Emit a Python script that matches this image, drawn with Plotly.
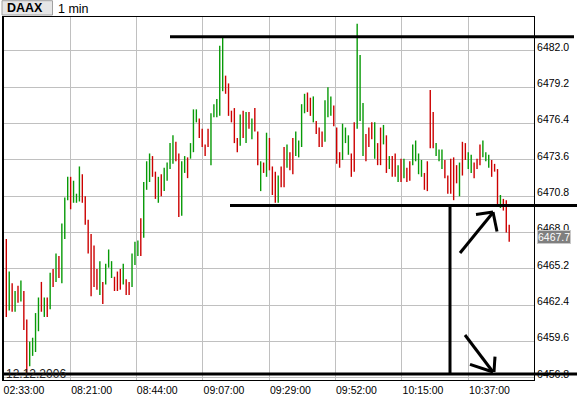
import plotly.graph_objects as go

# ---------------- data ----------------
highs = [6467.5, 6465.0, 6464.1, 6463.5, 6463.9, 6464.3, 6463.5, 6461.3, 6459.6, 6459.9,
         6461.8, 6463.0, 6464.2, 6463.0, 6463.0, 6464.9, 6465.2, 6466.4, 6466.2, 6468.7,
         6470.7, 6472.3, 6472.3, 6472.0, 6471.0, 6473.1, 6472.5, 6470.8, 6469.0, 6467.9,
         6467.0, 6465.2, 6465.8, 6464.2, 6465.6, 6466.7, 6465.8, 6464.6, 6465.0, 6465.2,
         6465.6, 6464.4, 6464.2, 6466.4, 6467.3, 6467.4, 6469.1, 6471.9, 6473.5, 6474.1,
         6473.9, 6472.7, 6472.3, 6472.5, 6473.0, 6473.4, 6474.9, 6475.5, 6475.0, 6474.1,
         6473.5, 6473.9, 6473.8, 6474.9, 6477.5, 6477.5, 6476.8, 6476.0, 6474.8, 6476.0,
         6477.2, 6477.9, 6478.3, 6482.4, 6483.1, 6480.1, 6479.5, 6477.4, 6477.6, 6475.3,
         6477.1, 6477.4, 6477.3, 6477.3, 6476.8, 6477.6, 6475.8, 6473.5, 6473.4, 6475.7,
         6475.3, 6473.1, 6472.7, 6472.4, 6473.1, 6474.6, 6474.8, 6474.2, 6475.3, 6475.8,
         6475.1, 6477.9, 6478.7, 6478.8, 6478.4, 6478.5, 6476.6, 6476.1, 6475.8, 6478.2,
         6479.2, 6478.5, 6477.8, 6476.1, 6474.2, 6476.4, 6476.1, 6475.5, 6474.1, 6476.5,
         6484.1, 6481.7, 6478.0, 6475.6, 6476.1, 6476.5, 6476.5, 6474.9, 6476.1, 6476.3,
         6475.5, 6473.9, 6473.9, 6474.1, 6473.2, 6473.7, 6473.7, 6473.0, 6473.5, 6474.8,
         6475.1, 6474.1, 6473.6, 6472.6, 6473.5, 6479.0, 6477.3, 6474.9, 6474.4, 6474.4,
         6473.6, 6472.4, 6473.7, 6473.8, 6473.2, 6473.4, 6475.0, 6474.9, 6474.2, 6474.0,
         6473.4, 6473.7, 6474.8, 6475.1, 6474.2, 6474.0, 6473.6, 6473.3, 6472.9, 6470.9,
         6470.6, 6470.5, 6468.6]
lows = [6461.5, 6462.0, 6461.9, 6461.9, 6462.6, 6462.7, 6460.5, 6457.0, 6457.7, 6458.5,
        6458.8, 6460.4, 6461.9, 6461.5, 6461.5, 6462.1, 6463.8, 6464.2, 6464.5, 6464.1,
        6467.5, 6470.5, 6469.8, 6470.3, 6470.3, 6470.4, 6470.3, 6468.6, 6466.4, 6463.1,
        6463.8, 6463.6, 6463.2, 6462.5, 6464.0, 6465.3, 6464.5, 6463.5, 6463.5, 6463.6,
        6464.0, 6463.2, 6463.2, 6463.8, 6465.5, 6466.2, 6466.2, 6467.6, 6471.3, 6471.9,
        6472.3, 6470.6, 6470.3, 6470.8, 6471.2, 6472.0, 6472.9, 6473.3, 6473.5, 6469.2,
        6469.3, 6472.6, 6472.2, 6473.7, 6474.2, 6476.5, 6475.3, 6474.6, 6473.9, 6474.6,
        6473.2, 6476.9, 6476.9, 6477.0, 6478.9, 6478.7, 6477.0, 6476.5, 6474.9, 6474.2,
        6474.7, 6475.3, 6474.9, 6476.0, 6475.2, 6475.8, 6473.2, 6471.2, 6472.6, 6472.3,
        6472.8, 6470.9, 6470.3, 6470.3, 6471.5, 6471.5, 6473.0, 6472.8, 6472.5, 6473.9,
        6473.8, 6474.6, 6477.2, 6477.3, 6477.0, 6476.5, 6475.6, 6474.6, 6474.6, 6475.0,
        6476.9, 6477.0, 6476.2, 6473.3, 6473.0, 6473.6, 6474.9, 6474.0, 6472.3, 6472.7,
        6476.0, 6476.6, 6473.9, 6473.5, 6474.6, 6475.2, 6473.7, 6473.2, 6473.2, 6474.8,
        6472.6, 6472.9, 6472.3, 6472.3, 6471.9, 6471.9, 6472.2, 6471.9, 6472.0, 6473.2,
        6473.5, 6472.5, 6472.3, 6471.3, 6471.2, 6474.5, 6474.5, 6473.9, 6473.5, 6472.9,
        6472.2, 6471.0, 6471.0, 6470.5, 6471.8, 6470.8, 6472.4, 6473.6, 6472.9, 6472.6,
        6472.2, 6472.9, 6473.2, 6473.8, 6473.5, 6473.0, 6472.3, 6472.7, 6470.1, 6469.9,
        6469.7, 6468.0, 6467.3]
# bar direction: g = rising (green), r = falling (red)
direction = ("rgrgrgrrgg" "ggrgrgrgrg" "ggrggg" "rrrrrrg" "rg"
             "ggrrrgrrgggrgggrrgrggggrrggrgggrrr"
             "rgggggrrrrrgrgrgrrgrgrrrgrrgrrgggg" "r"
             "rgrrrgggrrrgggrrgggrrrgrrgrgrrgrgr"
             "rggggrrrrgggrrrrrgrrggrrrgggrrrgrrrgrr")
last_price = 6467.7

x_tick_pos = [-1.13, 22.0, 44.45, 67.27, 90.0, 112.58, 135.33, 158.07]
x_tick_text = ["02:33:00", "08:21:00", "08:44:00", "09:07:00", "09:29:00",
               "09:52:00", "10:15:00", "10:37:00"]
y_tick_vals = [6456.8, 6459.6, 6462.4, 6465.2, 6468.0, 6470.8, 6473.6, 6476.4, 6479.2, 6482.0]
y_tick_text = ["%.1f" % v for v in y_tick_vals]

levels = [6483.1, 6470.1, 6457.1]   # hand-drawn horizontal lines
date_text = "12.12.2006"
symbol = "DAAX"
interval = "1 min"

# ---------------- figure ----------------
n = len(highs)
idx = list(range(n))
up = [direction[i] == "g" for i in range(n)]
opens = [lows[i] if up[i] else highs[i] for i in range(n)]
closes = [highs[i] if up[i] else lows[i] for i in range(n)]

GREEN = "#079a07"
RED = "#cc0000"
FONT = "Liberation Sans, Arial, sans-serif"

fig = go.Figure(go.Ohlc(
    x=idx, open=opens, high=highs, low=lows, close=closes,
    increasing=dict(line=dict(color=GREEN, width=1.4)),
    decreasing=dict(line=dict(color=RED, width=1.4)),
    tickwidth=0, hoverinfo="skip", showlegend=False,
))

W, H = 578, 398
L, R, T, B = 3, 44, 17, 18
pw, ph = W - L - R, H - T - B


def pxx(x):
    return (x - L) / pw


def pxy(y):
    return (H - B - y) / ph


shapes = []
line_style = dict(color="black", width=3)
# horizontal levels
shapes.append(dict(type="line", xref="paper", yref="y", x0=pxx(170), x1=pxx(574),
                   y0=levels[0], y1=levels[0], line=line_style))
shapes.append(dict(type="line", xref="paper", yref="y", x0=pxx(230), x1=pxx(577),
                   y0=levels[1], y1=levels[1], line=line_style))
shapes.append(dict(type="line", xref="paper", yref="y", x0=pxx(3), x1=pxx(577),
                   y0=levels[2], y1=levels[2], line=line_style))
shapes.append(dict(type="line", xref="paper", yref="y", x0=pxx(450), x1=pxx(450),
                   y0=levels[1], y1=levels[2], line=line_style))
# arrows
strokes = [
    (460, 253, 493, 212.5),
    (476, 214.5, 493, 212),
    (493, 212, 497, 231.5),
    (465, 335, 493, 372),
    (470, 364.3, 493, 372),
    (495, 356.7, 494, 372),
]
for x0, y0, x1, y1 in strokes:
    shapes.append(dict(type="line", xref="paper", yref="paper",
                       x0=pxx(x0), y0=pxy(y0), x1=pxx(x1), y1=pxy(y1),
                       line=line_style))
# thicker left frame
shapes.append(dict(type="line", xref="paper", yref="paper", x0=0, x1=0, y0=0, y1=1,
                   line=dict(color="black", width=2)))
# symbol box
shapes.append(dict(type="rect", xref="paper", yref="paper",
                   x0=pxx(2), x1=pxx(52.5), y0=pxy(15), y1=pxy(0.7),
                   fillcolor="#e6e6e6", line=dict(color="#a0a0a0", width=1),
                   layer="below"))

annotations = [
    dict(text="<b>%s</b>" % symbol, xref="paper", yref="paper", x=pxx(5), y=pxy(8),
         xanchor="left", yanchor="middle", showarrow=False, align="left",
         font=dict(family=FONT, size=12.5, color="black")),
    dict(text=interval, xref="paper", yref="paper", x=pxx(55.5), y=pxy(8.5),
         xanchor="left", yanchor="middle", showarrow=False,
         font=dict(family=FONT, size=12.5, color="black")),
    dict(text=date_text, xref="paper", yref="paper", x=pxx(4), y=pxy(374),
         xanchor="left", yanchor="middle", showarrow=False,
         font=dict(family=FONT, size=12, color="#202020")),
    dict(text="%.1f" % last_price, xref="paper", yref="y", x=pxx(536.5), y=last_price,
         xanchor="left", yanchor="middle", showarrow=False,
         font=dict(family=FONT, size=10.5, color="white"),
         bgcolor="#7f7f7f", bordercolor="#c8c8c8", borderwidth=1, borderpad=0),
]

fig.update_layout(
    width=W, height=H,
    margin=dict(l=L, r=R, t=T, b=B, pad=0),
    paper_bgcolor="white", plot_bgcolor="white",
    shapes=shapes, annotations=annotations,
    font=dict(family=FONT, size=10.5, color="black"),
    xaxis=dict(range=[-1.13, 180.48], tickmode="array", tickvals=x_tick_pos,
               ticktext=x_tick_text, showgrid=True, gridcolor="#c0c0c0", gridwidth=1,
               showline=True, linecolor="black", linewidth=1, mirror=True,
               ticks="", zeroline=False, rangeslider=dict(visible=False),
               ticklabelshift=21, tickfont=dict(size=10.5), fixedrange=True),
    yaxis=dict(range=[6456.64, 6484.62], side="right", tickmode="array",
               tickvals=y_tick_vals, ticktext=y_tick_text, showgrid=True,
               gridcolor="#c0c0c0", gridwidth=1, showline=True, linecolor="black",
               linewidth=1, mirror=True, ticks="", zeroline=False,
               ticklabelshift=-4, tickfont=dict(size=10.5), fixedrange=True),
)

fig.write_html("out.html")
